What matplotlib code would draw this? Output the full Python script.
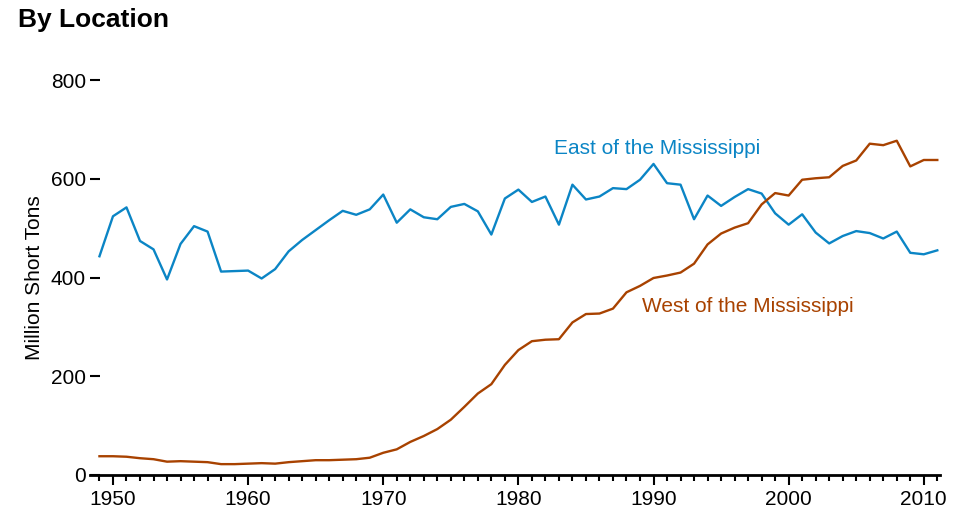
import matplotlib
matplotlib.use("Agg")
import matplotlib.pyplot as plt
from matplotlib.ticker import MultipleLocator

plt.rcParams['font.family'] = ['Liberation Sans', 'DejaVu Sans']

years = list(range(1949, 2012))

east = [443, 524, 542, 474, 457, 396, 468, 504, 493, 412,
        413, 414, 398, 417, 453, 476, 496, 516, 535, 527,
        538, 568, 511, 538, 522, 518, 543, 549, 534, 487,
        560, 578, 553, 564, 507, 588, 558, 564, 581, 579,
        598, 630, 591, 588, 518, 566, 545, 563, 579, 570,
        530, 507, 528, 491, 469, 484, 494, 490, 479, 493,
        450, 447, 455]

west = [38, 38, 37, 34, 32, 27, 28, 27, 26, 22,
        22, 23, 24, 23, 26, 28, 30, 30, 31, 32,
        35, 45, 52, 67, 79, 93, 112, 138, 165, 184,
        223, 253, 271, 274, 275, 309, 326, 327, 337, 370,
        383, 399, 404, 410, 428, 467, 489, 501, 510, 548,
        571, 566, 598, 601, 603, 626, 637, 671, 668, 677,
        625, 638, 638]

title = "By Location"
ylabel = "Million Short Tons"
east_label = "East of the Mississippi"
west_label = "West of the Mississippi"
east_color = "#0b85c5"
west_color = "#a84200"

fig = plt.figure(figsize=(9.71, 5.14), dpi=100)
ax = fig.add_axes([90/971, 1 - 475/514, (940 - 90)/971, (475 - 80)/514])

ax.plot(years, east, color=east_color, lw=1.7, clip_on=False)
ax.plot(years, west, color=west_color, lw=1.7, clip_on=False)

ax.set_xlim(1948.3, 2011.2)
ax.set_ylim(0, 800)

for s in ['top', 'right', 'left']:
    ax.spines[s].set_visible(False)
ax.spines['bottom'].set_linewidth(2.0)

ax.set_yticks([0, 200, 400, 600, 800])
ax.xaxis.set_major_locator(MultipleLocator(10))
ax.xaxis.set_minor_locator(MultipleLocator(1))
ax.tick_params(axis='y', direction='in', length=7.5, width=1.5, labelsize=15, pad=3)
ax.tick_params(axis='x', which='major', length=7, width=1.5, labelsize=15, pad=4)
ax.tick_params(axis='x', which='minor', length=4, width=1.5)

ax.set_ylabel(ylabel, fontsize=15, labelpad=5)

ax.text(1990.3, 662, east_label, color=east_color, fontsize=15, ha='center', va='center')
ax.text(1997.0, 342, west_label, color=west_color, fontsize=15, ha='center', va='center')

fig.text(18/971, 1 - 20/514, title, fontsize=19, fontweight='bold', ha='left', va='center')

fig.savefig("out.png", dpi=100)
